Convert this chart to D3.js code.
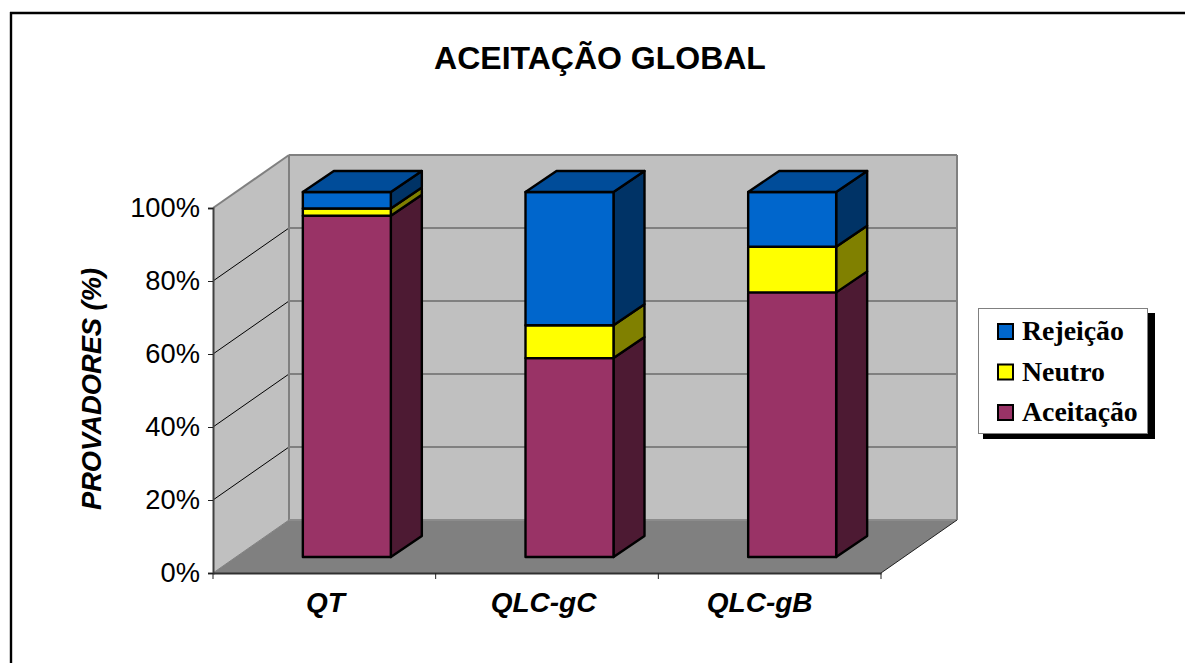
<!DOCTYPE html>
<html>
<head>
<meta charset="utf-8">
<script src="https://cdn.jsdelivr.net/npm/d3@7"></script>
<style>
html, body { margin: 0; padding: 0; background: #fff; }
svg { display: block; }
</style>
</head>
<body>
<svg id="chart" width="1185" height="663"></svg>
<script>
const categories = ["QT", "QLC-gC", "QLC-gB"];
const seriesNames = ["Aceitação", "Neutro", "Rejeição"];
const aceitacao = [93.5, 54.5, 72.5];
const neutro = [2, 9, 12.5];
const rejeicao = [4.5, 36.5, 15];
const yTicks = [0, 20, 40, 60, 80, 100];
const fronts = ["#993366", "#ffff00", "#0066cc"];
const sides = ["#4d1a33", "#808000", "#003366"];
const tops = ["#993366", "#ffff00", "#004c99"];

const svg = d3.select("#chart");
const BLACK = "#000";
const GREY = "#808080";

// Oblique projection of the 3-D box: walls recede up and to the right.
const depthX = 76, depthY = -53;
const x = d3.scaleBand().domain(categories).range([213, 881]);
const y = d3.scaleLinear().domain([0, 100]).range([573, 208]);
const barWidth = 88;
const barDepthX = 31, barDepthY = -21;
const barInset = 16; // vertical lift of the bar base above the front floor edge

const poly = (pts, fill, stroke, sw) => svg.append("polygon")
  .attr("points", pts.map(p => p.join(",")).join(" "))
  .attr("fill", fill)
  .attr("stroke", stroke || "none")
  .attr("stroke-width", sw || 0)
  .attr("stroke-linejoin", "round");
const line = (x1, y1, x2, y2, stroke, sw) => svg.append("line")
  .attr("x1", x1).attr("y1", y1).attr("x2", x2).attr("y2", y2)
  .attr("stroke", stroke).attr("stroke-width", sw);

// Chart frame: only its top and left edges fall inside the page
line(10, 13, 1185, 13, BLACK, 2.4);
line(11, 12, 11, 663, BLACK, 2.4);

// Title
svg.append("text").attr("x", 600).attr("y", 69).attr("text-anchor", "middle")
  .attr("font-family", "Liberation Sans").attr("font-weight", "bold")
  .attr("font-size", 32).attr("fill", BLACK).text("ACEITAÇÃO GLOBAL");

const x0 = x.range()[0], x1 = x.range()[1];
const yBottom = y(0), yTop = y(100);

// Side wall, back wall and floor
poly([[x0, yBottom], [x0 + depthX, yBottom + depthY], [x0 + depthX, yTop + depthY], [x0, yTop]], "#c0c0c0");
poly([[x0 + depthX, yBottom + depthY], [x1 + depthX, yBottom + depthY], [x1 + depthX, yTop + depthY], [x0 + depthX, yTop + depthY]], "#c0c0c0");
poly([[x0, yBottom], [x1, yBottom], [x1 + depthX, yBottom + depthY], [x0 + depthX, yBottom + depthY]], GREY);

// Gridlines wrap from the value axis over the side wall and along the back wall
yTicks.slice(1, -1).forEach(t => {
  line(x0, y(t), x0 + depthX, y(t) + depthY, "#000", 1);
  line(x0 + depthX, y(t) + depthY, x1 + depthX, y(t) + depthY, "#404040", 1);
});

// Wall outlines
line(x0 + depthX, yTop + depthY, x1 + depthX, yTop + depthY, GREY, 2);
line(x1 + depthX, yTop + depthY, x1 + depthX, yBottom + depthY, GREY, 2);
line(x0 + depthX, yTop + depthY, x0 + depthX, yBottom + depthY, GREY, 2);
line(x0, yTop, x0 + depthX, yTop + depthY, GREY, 2);
line(x0 + depthX, yBottom + depthY, x1 + depthX, yBottom + depthY, "#8c8c8c", 2);
line(x1, yBottom, x1 + depthX, yBottom + depthY, "#202020", 1);
line(x0, yBottom, x0 + depthX, yBottom + depthY, GREY, 1);

// Stacked bars, drawn bottom segment first
const stacked = d3.stack().keys([0, 1, 2]).value((d, k) => d[k])(
  categories.map((c, i) => [aceitacao[i], neutro[i], rejeicao[i]])
);
categories.forEach((c, i) => {
  const cx = x(c) + x.bandwidth() / 2 + 22.5;
  const xl = cx - barWidth / 2, xr = cx + barWidth / 2;
  stacked.forEach((layer, s) => {
    const yb = y(layer[i][0]) - barInset, yt = y(layer[i][1]) - barInset;
    poly([[xr, yb], [xr + barDepthX, yb + barDepthY], [xr + barDepthX, yt + barDepthY], [xr, yt]], sides[s], BLACK, 2.4);
    poly([[xl, yb], [xr, yb], [xr, yt], [xl, yt]], fronts[s], BLACK, 2.4);
    if (s === stacked.length - 1) {
      poly([[xl, yt], [xr, yt], [xr + barDepthX, yt + barDepthY], [xl + barDepthX, yt + barDepthY]], tops[s], BLACK, 2.4);
    }
  });
});

// Value axis
const axisY = svg.append("g").attr("transform", `translate(${x0},0)`)
  .call(d3.axisLeft(y).tickValues(yTicks).tickSize(5).tickPadding(8).tickFormat(d => d + "%"));
axisY.select(".domain").attr("stroke", "#404040").attr("stroke-width", 2);
axisY.selectAll(".tick line").attr("stroke", "#202020").attr("stroke-width", 1);
axisY.selectAll("text").attr("font-family", "Liberation Sans").attr("font-size", 27.3).attr("fill", BLACK);

// Category axis; the labels sit progressively left of their band centres
const labelShift = [1, -3.5, -10];
const axisX = svg.append("g").attr("transform", `translate(0,${yBottom})`)
  .call(d3.axisBottom(x).tickSize(0).tickPadding(19));
axisX.select(".domain").attr("stroke", "#303030").attr("stroke-width", 2);
axisX.selectAll("text").attr("font-family", "Liberation Sans").attr("font-size", 28)
  .attr("font-weight", "bold").attr("font-style", "italic").attr("fill", BLACK)
  .attr("dx", (d, i) => labelShift[i]);
[0, 1, 2, 3].forEach(i => line(x0 + i * x.step(), yBottom, x0 + i * x.step(), yBottom + 6, "#202020", 1));

// Value axis title
svg.append("text").attr("transform", "translate(101,389) rotate(-90)").attr("text-anchor", "middle")
  .attr("font-family", "Liberation Sans").attr("font-weight", "bold").attr("font-style", "italic")
  .attr("font-size", 27.3).attr("fill", BLACK).text("PROVADORES (%)");

// Legend with hard drop shadow
const legend = svg.append("g");
legend.append("rect").attr("x", 983).attr("y", 313).attr("width", 172).attr("height", 126).attr("fill", BLACK);
legend.append("rect").attr("x", 978.5).attr("y", 308.5).attr("width", 169).attr("height", 125)
  .attr("fill", "#fff").attr("stroke", GREY).attr("stroke-width", 1);
[2, 1, 0].forEach((s, row) => {
  const ly = 330 + row * 40.5;
  legend.append("rect").attr("x", 998).attr("y", ly - 6).attr("width", 15).attr("height", 15)
    .attr("fill", fronts[s]).attr("stroke", BLACK).attr("stroke-width", 2);
  legend.append("text").attr("x", 1022).attr("y", ly + 10)
    .attr("font-family", "Liberation Serif").attr("font-weight", "bold")
    .attr("font-size", 27.8).attr("fill", BLACK).text(seriesNames[s]);
});
</script>
</body>
</html>
